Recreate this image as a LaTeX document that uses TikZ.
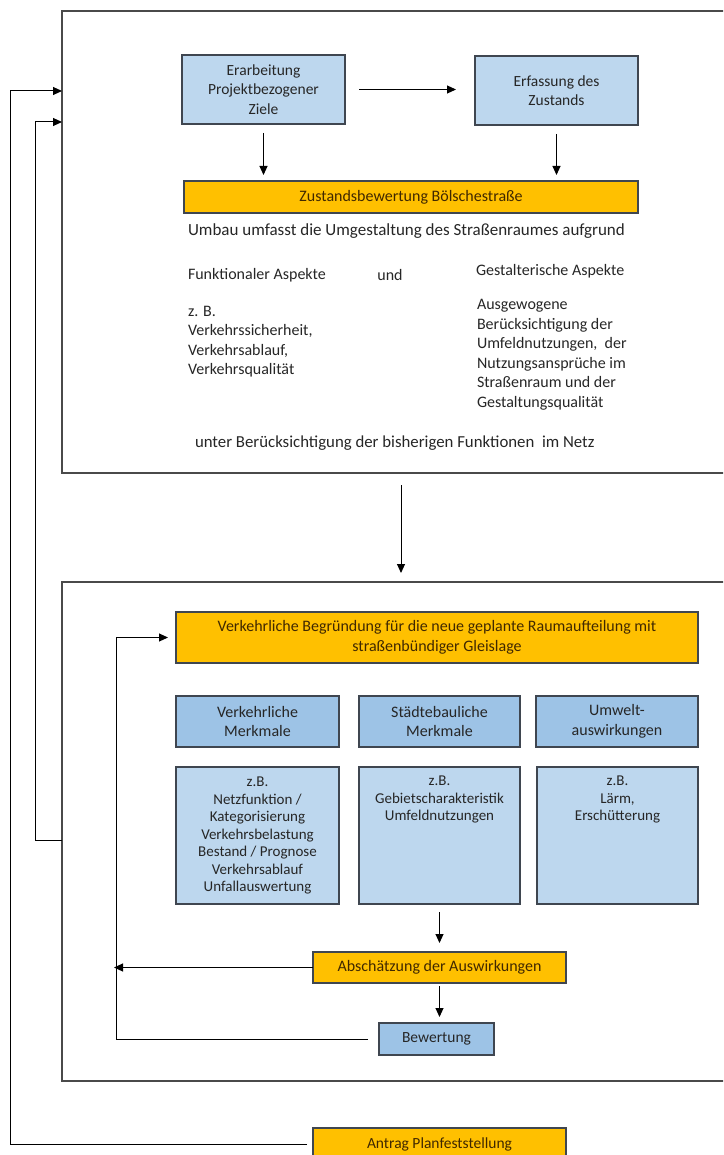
\documentclass[tikz,border=0pt]{standalone}
\usepackage{fontspec}
\setmainfont{Carlito}
\usetikzlibrary{arrows.meta}
\definecolor{lblue}{HTML}{BDD7EE}
\definecolor{mblue}{HTML}{9DC3E6}
\definecolor{orng}{HTML}{FFC000}
\definecolor{boxline}{HTML}{3F4650}
\definecolor{frameline}{HTML}{4A4A4A}
\definecolor{txtc}{HTML}{262626}
\definecolor{otxt}{HTML}{402800}
\begin{document}
\begin{tikzpicture}[x=1pt,y=-1pt,
  every node/.style={inner sep=0pt, outer sep=0pt, text=txtc, font=\fontsize{16}{19.5}\selectfont},
  frame/.style={draw=frameline, line width=1.3pt, anchor=north west},
  lbox/.style={draw=boxline, line width=1.2pt, fill=lblue, align=center},
  mbox/.style={draw=boxline, line width=1.2pt, fill=mblue, align=center},
  obox/.style={draw=boxline, line width=1.2pt, fill=orng, align=center, text=otxt},
  boxfont/.style={font=\fontsize{15.5}{19.3}\selectfont},
  smallfont/.style={font=\fontsize{15}{17.5}\selectfont},
  arr/.style={draw=black, line width=1pt, -{Triangle[length=9pt,width=8pt]}},
  txt/.style={align=left}
]
\clip (0,0) rectangle (723,1155);

% outer frames
\node[frame, minimum width=720pt, minimum height=462pt] (outerA) at (62,11) {};
\node[frame, minimum width=720pt, minimum height=499pt] (outerB) at (62,582) {};

% upper part
\node[lbox, boxfont, minimum width=163pt, minimum height=69pt] (erarb) at (263.5,89.5) {Erarbeitung\\Projektbezogener\\Ziele};
\node[lbox, boxfont, minimum width=163pt, minimum height=69pt] (erfass) at (556.5,90.5) {Erfassung des\\Zustands};
\node[obox, minimum width=454pt, minimum height=32pt] (zust) at (411,197) {Zustandsbewertung Bölschestraße};

\node[txt, anchor=west, font=\fontsize{17}{20}\selectfont] (umbau) at (188,231) {Umbau umfasst die Umgestaltung des Straßenraumes aufgrund};
\node[txt, anchor=west] (funk) at (188,275) {Funktionaler Aspekte};
\node[txt] (und) at (390,275) {und};
\node[txt, anchor=west] (gest) at (476,271) {Gestalterische Aspekte};
\node[txt, anchor=north west] (zb) at (188,306) {z. B.\\Verkehrssicherheit,\\Verkehrsablauf,\\Verkehrsqualität};
\node[txt, anchor=north west] (ausg) at (477,299.5) {Ausgewogene\\Berücksichtigung der\\Umfeldnutzungen,~ der\\Nutzungsansprüche im\\Straßenraum und der\\Gestaltungsqualität};
\node[txt, anchor=west, font=\fontsize{16.8}{20}\selectfont] (unter) at (195,443) {unter Berücksichtigung der bisherigen Funktionen~ im Netz};

\draw[arr, shorten <=14pt, shorten >=19pt] (erarb.east) -- (erarb.east -| erfass.west);
\draw[arr, shorten <=9pt, shorten >=6pt] (erarb.south) -- (erarb.south |- zust.north);
\draw[arr, shorten <=9pt, shorten >=6pt] (erfass.south) -- (erfass.south |- zust.north);

\coordinate (mid) at (401,0);
\draw[arr, shorten <=12pt, shorten >=9pt] (outerA.south -| mid) -- (outerB.north -| mid);

% lower part
\node[obox, minimum width=522pt, minimum height=51pt] (verkBeg) at (437,637.5) {Verkehrliche Begründung für die neue geplante Raumaufteilung mit\\straßenbündiger Gleislage};

\node[mbox, minimum width=163pt, minimum height=51pt] (h1) at (257.5,721.5) {Verkehrliche\\Merkmale};
\node[mbox, minimum width=161pt, minimum height=51pt] (h2) at (439.5,721.5) {Städtebauliche\\Merkmale};
\node[mbox, minimum width=162pt, minimum height=51pt] (h3) at (617,721.5) {Umwelt-\\auswirkungen};

\node[lbox, minimum width=163pt, minimum height=137pt] (d1) at (257.5,835.5) {};
\node[lbox, minimum width=161pt, minimum height=137pt] (d2) at (439.5,835.5) {};
\node[lbox, minimum width=161pt, minimum height=137pt] (d3) at (617.5,835.5) {};
\node[smallfont, align=center, anchor=north] (d1t) at (257.5,777) {z.B.\\Netzfunktion /\\Kategorisierung\\Verkehrsbelastung\\Bestand / Prognose\\Verkehrsablauf\\Unfallauswertung};
\node[smallfont, align=center, anchor=north] (d2t) at (439.5,776) {z.B.\\Gebietscharakteristik\\Umfeldnutzungen};
\node[smallfont, align=center, anchor=north] (d3t) at (617.5,776) {z.B.\\Lärm,\\Erschütterung};

\node[obox, minimum width=253pt, minimum height=31pt] (absch) at (439.5,967.5) {Abschätzung der Auswirkungen};
\node[mbox, boxfont, minimum width=115pt, minimum height=32pt] (bew) at (436.5,1039) {Bewertung};
\node[obox, boxfont, minimum width=253pt, minimum height=32pt] (antrag) at (439.5,1144) {Antrag Planfeststellung};

\draw[arr, shorten <=8pt, shorten >=9pt] (d2.south) -- (d2.south |- absch.north);
\draw[arr, shorten <=3pt, shorten >=6pt] (absch.south) -- (absch.south |- bew.north);

\coordinate (loopx) at (116,0);
\draw[arr, shorten >=-2pt] (absch.west) -- (absch.west -| loopx);
\draw[arr, shorten >=8pt] ([xshift=-11pt]bew.west) -| (loopx |- verkBeg.west) -- (verkBeg.west);

% feedback loops on the left
\coordinate (fbo) at (10,91);
\coordinate (fbi) at (35,122);
\coordinate (fbs) at (0,840);
\draw[arr] ([xshift=-6pt]antrag.west) -| (fbo) -- (fbo -| outerA.west);
\draw[arr] (outerB.west |- fbs) -| (fbi) -- (fbi -| outerA.west);
\end{tikzpicture}
\end{document}
